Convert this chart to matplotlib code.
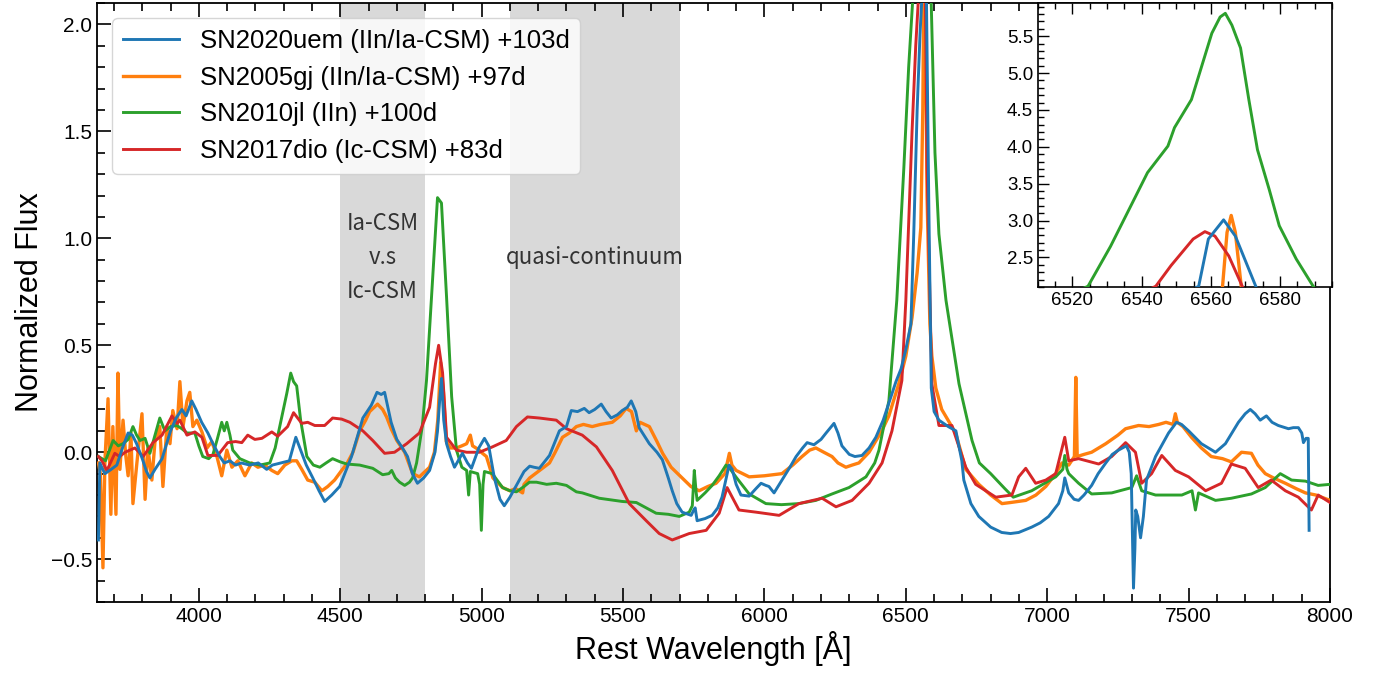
import numpy as np
import matplotlib
matplotlib.use("Agg")
import matplotlib.pyplot as plt
from matplotlib.ticker import MultipleLocator

plt.rcParams['font.family'] = ['Liberation Sans', 'DejaVu Sans']

# ---- spectra (rest wavelength [A], normalized flux) ----
uem_wave = [3645, 3650, 3660, 3668, 3690, 3710, 3730, 3750, 3765, 3780, 3800, 3815, 3827, 3845, 3870,
            3900, 3920, 3940, 3955, 3975, 3990, 4010, 4032, 4050, 4074, 4090, 4110, 4130, 4150, 4180,
            4210, 4240, 4260, 4290, 4320, 4343, 4360, 4380, 4403, 4425, 4445, 4470, 4498, 4540, 4580,
            4610, 4630, 4645, 4657, 4680, 4700, 4720, 4738, 4755, 4773, 4795, 4816, 4835, 4844, 4852,
            4858, 4866, 4876, 4890, 4904, 4932, 4950, 4964, 4990, 5010, 5025, 5045, 5065, 5080, 5100,
            5125, 5150, 5170, 5185, 5204, 5240, 5275, 5300, 5317, 5339, 5363, 5380, 5400, 5423, 5440,
            5458, 5480, 5497, 5515, 5529, 5545, 5557, 5593, 5620, 5639, 5660, 5674, 5690, 5709, 5741,
            5750, 5755, 5762, 5790, 5815, 5835, 5850, 5865, 5875, 5886, 5900, 5917, 5946, 5970, 5988,
            6005, 6016, 6034, 6062, 6090, 6112, 6135, 6151, 6175, 6200, 6218, 6246, 6260, 6274, 6300,
            6320, 6345, 6370, 6394, 6420, 6440, 6465, 6483, 6500, 6518, 6528, 6540, 6550, 6556.5, 6559.3,
            6563.7, 6567.1, 6573, 6581, 6590, 6600, 6617, 6650, 6677, 6698, 6705, 6730, 6758, 6800,
            6839, 6870, 6899, 6945, 6975, 7005, 7040, 7055, 7062, 7076, 7095, 7111, 7130, 7157, 7180,
            7207, 7230, 7252, 7280, 7290, 7297, 7305, 7310, 7313, 7320, 7330, 7340, 7351, 7383, 7429,
            7457, 7475, 7500, 7545, 7595, 7630, 7676, 7700, 7718, 7735, 7753, 7775, 7795, 7817, 7853,
            7870, 7888, 7900, 7906, 7915, 7923, 7926]
uem_flux = [-0.41, -0.05, -0.08, -0.10, -0.08, -0.06, 0.02, 0.09, 0.08, 0.04, -0.03, -0.09, -0.12, -0.08, -0.03,
            0.10, 0.16, 0.20, 0.17, 0.24, 0.20, 0.14, 0.09, 0.04, -0.02, -0.05, -0.04, -0.06, -0.05, -0.06,
            -0.05, -0.08, -0.06, -0.05, -0.04, 0.07, 0.01, -0.06, -0.12, -0.18, -0.23, -0.20, -0.16, -0.02, 0.16,
            0.22, 0.28, 0.27, 0.28, 0.14, 0.06, 0.02, -0.02, -0.10, -0.145, -0.12, -0.085, 0.0, 0.10, 0.25,
            0.345, 0.15, 0.04, -0.02, -0.07, -0.005, -0.05, -0.075, 0.02, 0.065, 0.03, -0.12, -0.22, -0.25, -0.21,
            -0.15, -0.09, -0.065, -0.07, -0.075, -0.015, 0.10, 0.12, 0.195, 0.19, 0.205, 0.185, 0.20, 0.225, 0.19,
            0.16, 0.175, 0.195, 0.21, 0.24, 0.19, 0.115, 0.04, 0.0, -0.035, -0.12, -0.18, -0.24, -0.28, -0.295,
            -0.27, -0.26, -0.32, -0.31, -0.295, -0.26, -0.21, -0.12, -0.06, -0.08, -0.15, -0.20, -0.205, -0.17, -0.145,
            -0.155, -0.16, -0.19, -0.13, -0.07, -0.02, 0.02, 0.045, 0.035, 0.06, 0.09, 0.135, 0.09, 0.03, -0.01,
            -0.02, -0.015, 0.02, 0.07, 0.15, 0.23, 0.33, 0.39, 0.48, 0.60, 1.02, 1.60, 1.95, 2.11, 2.75,
            3.01, 2.79, 2.11, 1.18, 0.30, 0.19, 0.15, 0.12, 0.10, -0.04, -0.13, -0.24, -0.30, -0.35,
            -0.375, -0.38, -0.375, -0.35, -0.33, -0.30, -0.24, -0.18, -0.12, -0.19, -0.22, -0.225, -0.20, -0.155, -0.10,
            -0.05, -0.01, 0.01, 0.03, 0.0, -0.10, -0.635, -0.45, -0.27, -0.30, -0.40, -0.30, -0.13, -0.02, 0.09,
            0.14, 0.13, 0.10, 0.04, 0.0, 0.04, 0.14, 0.18, 0.20, 0.18, 0.15, 0.17, 0.14, 0.125, 0.11,
            0.115, 0.115, 0.09, 0.045, 0.065, 0.065, -0.365]

gj_wave = [3645, 3652, 3661, 3668, 3679, 3689, 3696, 3707, 3714, 3721, 3732, 3742, 3750, 3760, 3767,
           3781, 3799, 3810, 3820, 3834, 3845, 3862, 3873, 3887, 3898, 3908, 3923, 3933, 3944, 3958,
           3968, 3979, 3993, 4011, 4029, 4046, 4064, 4081, 4099, 4117, 4138, 4163, 4187, 4209, 4233,
           4258, 4279, 4304, 4329, 4346, 4364, 4385, 4410, 4435, 4456, 4480, 4505, 4523, 4545, 4569,
           4590, 4604, 4632, 4650, 4664, 4680, 4700, 4728, 4756, 4780, 4800, 4816, 4833, 4845, 4855,
           4865, 4875, 4890, 4911, 4930, 4947, 4960, 4968, 4992, 5003, 5017, 5040, 5074, 5100, 5120,
           5145, 5150, 5170, 5200, 5240, 5260, 5286, 5310, 5335, 5360, 5391, 5420, 5462, 5490, 5511,
           5530, 5547, 5560, 5593, 5620, 5640, 5670, 5709, 5740, 5769, 5800, 5829, 5860, 5876, 5885,
           5900, 5946, 6000, 6062, 6100, 6133, 6160, 6182, 6210, 6239, 6260, 6288, 6310, 6334, 6370,
           6415, 6440, 6475, 6500, 6522, 6540, 6553, 6560, 6563.4, 6564.7, 6565.9, 6567.1, 6568.8, 6575, 6585,
           6592, 6606, 6627, 6676, 6712, 6758, 6800, 6840, 6870, 6924, 6960, 6995, 7030, 7052, 7076,
           7096, 7101, 7106, 7130, 7157, 7207, 7250, 7277, 7323, 7360, 7394, 7420, 7445, 7453, 7460,
           7480, 7510, 7545, 7580, 7620, 7651, 7687, 7722, 7745, 7771, 7800, 7842, 7880, 7913, 7950,
           8000]
gj_flux = [-0.05, -0.10, -0.54, -0.04, 0.25, -0.29, 0.12, -0.29, 0.37, -0.08, 0.15, -0.02, -0.11, 0.09, -0.24,
           -0.05, 0.18, -0.22, 0.02, -0.13, 0.05, 0.12, -0.16, 0.12, 0.04, 0.195, 0.11, 0.33, 0.12, 0.24,
           0.28, 0.12, 0.15, 0.095, 0.02, 0.05, -0.02, -0.11, 0.01, -0.07, -0.04, -0.11, -0.05, -0.07, -0.06,
           -0.085, -0.10, -0.06, -0.04, -0.04, -0.08, -0.13, -0.14, -0.18, -0.16, -0.13, -0.085, -0.055, 0.0, 0.10,
           0.15, 0.19, 0.225, 0.20, 0.165, 0.11, 0.055, 0.0, -0.10, -0.115, -0.09, -0.07, 0.0, 0.15, 0.42,
           0.28, 0.05, 0.02, 0.02, 0.03, 0.04, 0.08, 0.03, 0.01, -0.005, -0.02, -0.12, -0.165, -0.18, -0.17,
           -0.19, -0.15, -0.12, -0.09, -0.05, 0.0, 0.07, 0.09, 0.12, 0.13, 0.12, 0.13, 0.14, 0.17, 0.205,
           0.19, 0.10, 0.14, 0.12, 0.05, -0.005, -0.07, -0.12, -0.16, -0.18, -0.16, -0.145, -0.10, -0.005, -0.06,
           -0.085, -0.115, -0.11, -0.10, -0.06, -0.02, 0.01, 0.02, 0.0, -0.02, -0.05, -0.07, -0.06, -0.05, 0.0,
           0.10, 0.17, 0.32, 0.45, 0.63, 0.84, 1.05, 1.60, 2.11, 2.84, 3.07, 2.84, 2.11, 1.20, 0.60,
           0.45, 0.30, 0.20, 0.09, -0.08, -0.15, -0.20, -0.24, -0.235, -0.225, -0.20, -0.16, -0.10, -0.05, -0.06,
           -0.02, 0.35, -0.02, -0.01, 0.0, 0.04, 0.08, 0.11, 0.125, 0.12, 0.13, 0.14, 0.13, 0.18, 0.14,
           0.12, 0.07, 0.02, -0.02, -0.03, -0.045, 0.0, -0.005, -0.06, -0.10, -0.12, -0.145, -0.17, -0.19, -0.20,
           -0.225]

jl_wave = [3645, 3670, 3697, 3715, 3732, 3750, 3767, 3780, 3792, 3810, 3827, 3845, 3862, 3880, 3900,
           3922, 3940, 3958, 3986, 4000, 4014, 4035, 4050, 4065, 4081, 4090, 4099, 4110, 4120, 4145,
           4180, 4216, 4251, 4270, 4286, 4311, 4325, 4335, 4346, 4360, 4382, 4405, 4428, 4450, 4473,
           4500, 4523, 4569, 4615, 4650, 4672, 4682, 4695, 4710, 4728, 4745, 4756, 4770, 4790, 4805,
           4826, 4844, 4858, 4876, 4894, 4911, 4930, 4947, 4954, 4960, 4986, 4993, 4999, 5005, 5010,
           5038, 5074, 5100, 5123, 5150, 5169, 5194, 5230, 5264, 5300, 5335, 5356, 5416, 5497, 5547,
           5617, 5660, 5699, 5734, 5745, 5752, 5758, 5762, 5790, 5815, 5840, 5864, 5880, 5899, 5946,
           6005, 6060, 6122, 6182, 6239, 6299, 6359, 6390, 6405, 6440, 6468, 6493, 6510, 6524.5, 6531,
           6541.7, 6547.6, 6549.5, 6554.4, 6560.3, 6562.7, 6564.2, 6566.1, 6568.6, 6571.0, 6573.5, 6576.9, 6579.8, 6584.7, 6589.6,
           6603, 6617, 6642, 6688, 6734, 6760, 6800, 6850, 6880, 6945, 7030, 7055, 7062, 7070, 7076,
           7111, 7157, 7228, 7299, 7316, 7334, 7383, 7476, 7512, 7524, 7535, 7595, 7651, 7722, 7771,
           7824, 7864, 7913, 7958, 8000]
jl_flux = [-0.02, -0.04, 0.055, 0.03, 0.04, 0.06, 0.12, 0.08, 0.055, 0.065, -0.005, 0.08, 0.16, 0.10, 0.12,
           0.125, 0.11, 0.09, 0.09, 0.03, -0.02, -0.03, -0.01, 0.06, 0.14, 0.10, 0.14, 0.08, 0.01, -0.03,
           -0.05, -0.06, -0.05, 0.02, 0.12, 0.275, 0.37, 0.33, 0.31, 0.15, -0.02, -0.06, -0.07, -0.05, -0.03,
           -0.045, -0.055, -0.06, -0.075, -0.105, -0.10, -0.085, -0.12, -0.14, -0.155, -0.14, -0.12, -0.05, 0.12, 0.335,
           0.80, 1.19, 1.165, 0.725, 0.26, 0.01, -0.07, -0.085, -0.20, -0.09, -0.10, -0.15, -0.365, -0.15, -0.09,
           -0.10, -0.165, -0.18, -0.185, -0.16, -0.14, -0.14, -0.15, -0.145, -0.155, -0.185, -0.19, -0.215, -0.23, -0.235,
           -0.285, -0.29, -0.30, -0.28, -0.25, -0.085, -0.18, -0.225, -0.19, -0.155, -0.11, -0.06, -0.08, -0.115, -0.195,
           -0.24, -0.245, -0.24, -0.225, -0.195, -0.165, -0.115, -0.05, 0.01, 0.24, 0.71, 1.33, 1.80, 2.11, 2.65,
           3.65, 4.01, 4.26, 4.64, 5.54, 5.76, 5.81, 5.65, 5.34, 4.64, 3.96, 3.42, 2.93, 2.48, 2.11,
           1.40, 1.02, 0.71, 0.32, 0.055, -0.05, -0.10, -0.17, -0.21, -0.18, -0.115, -0.08, -0.015, -0.08, -0.10,
           -0.145, -0.195, -0.19, -0.165, -0.11, -0.18, -0.20, -0.20, -0.18, -0.27, -0.19, -0.225, -0.215, -0.195, -0.165,
           -0.10, -0.13, -0.135, -0.155, -0.15]

dio_wave = [3645, 3657, 3675, 3703, 3720, 3739, 3774, 3803, 3838, 3870, 3905, 3923, 3933, 3958, 3986,
            4011, 4032, 4067, 4102, 4130, 4152, 4173, 4198, 4223, 4258, 4279, 4314, 4335, 4364, 4385,
            4410, 4445, 4473, 4505, 4534, 4580, 4615, 4657, 4692, 4735, 4780, 4816, 4837, 4848, 4862,
            4876, 4911, 4947, 4992, 5038, 5087, 5123, 5162, 5204, 5264, 5300, 5356, 5406, 5462, 5522,
            5582, 5628, 5674, 5734, 5794, 5840, 5868, 5886, 5910, 5970, 6052, 6122, 6204, 6253, 6310,
            6370, 6416, 6451, 6486, 6500, 6522, 6535, 6544.1, 6548.5, 6554.9, 6558.3, 6561.2, 6565.2, 6569.1, 6575,
            6592, 6617, 6663, 6688, 6712, 6747, 6818, 6875, 6899, 6924, 6959, 6995, 7030, 7062, 7076,
            7111, 7182, 7228, 7277, 7312, 7334, 7369, 7405, 7453, 7500, 7560, 7616, 7651, 7700, 7746,
            7792, 7842, 7888, 7934, 7958, 8000]
dio_flux = [-0.02, -0.04, -0.085, -0.005, -0.02, 0.0, 0.02, -0.02, 0.045, 0.08, 0.17, 0.135, 0.15, 0.08, 0.095,
            0.07, -0.015, -0.015, 0.045, 0.05, 0.045, 0.08, 0.06, 0.065, 0.095, 0.075, 0.12, 0.185, 0.135, 0.14,
            0.125, 0.125, 0.16, 0.155, 0.14, 0.10, 0.055, -0.005, 0.0, 0.04, 0.09, 0.21, 0.415, 0.50, 0.37,
            0.07, 0.01, 0.0, 0.0, 0.025, 0.055, 0.12, 0.165, 0.16, 0.15, 0.11, 0.08, 0.025, -0.085, -0.24,
            -0.32, -0.38, -0.41, -0.38, -0.365, -0.285, -0.165, -0.21, -0.27, -0.28, -0.295, -0.24, -0.215, -0.255, -0.225,
            -0.145, -0.05, 0.10, 0.335, 0.71, 1.50, 1.90, 2.11, 2.39, 2.75, 2.85, 2.79, 2.52, 2.11, 1.33,
            0.32, 0.125, 0.125, 0.025, -0.07, -0.15, -0.21, -0.20, -0.115, -0.075, -0.145, -0.13, -0.10, 0.07, -0.04,
            -0.03, -0.055, -0.02, 0.045, 0.0, -0.145, -0.10, -0.015, -0.085, -0.115, -0.18, -0.145, -0.055, -0.075, -0.165,
            -0.13, -0.18, -0.21, -0.27, -0.20, -0.235]

series = [
    (uem_wave, uem_flux, 'SN2020uem (IIn/Ia-CSM) +103d', 'C0', 2.1, 6),
    (gj_wave, gj_flux, 'SN2005gj (IIn/Ia-CSM) +97d', 'C1', 2.4, 3),
    (jl_wave, jl_flux, 'SN2010jl (IIn) +100d', 'C2', 2.1, 4),
    (dio_wave, dio_flux, 'SN2017dio (Ic-CSM) +83d', 'C3', 2.1, 5),
]

shaded = [(4500, 4800), (5100, 5700)]

fig = plt.figure(figsize=(13.82, 6.8), dpi=100)
ax = fig.add_axes([0.0702, 0.1147, 0.8922, 0.8809])

for lo, hi in shaded:
    ax.axvspan(lo, hi, color='#d9d9d9', lw=0, zorder=0)

for w, f, lab, c, lw, z in series:
    ax.plot(w, f, color=c, lw=lw, label=lab, zorder=z)

ax.text(4650, 0.91, 'Ia-CSM\nv.s\nIc-CSM', ha='center', va='center', fontsize=16,
        color='#333333', linespacing=1.6, family=['Noto Sans CJK JP', 'DejaVu Sans'])
ax.text(5400, 0.91, 'quasi-continuum', ha='center', va='center', fontsize=16,
        color='#333333', family=['Noto Sans CJK JP', 'DejaVu Sans'])

ax.set_xlim(3640, 8000)
ax.set_ylim(-0.7, 2.1)
ax.xaxis.set_major_locator(MultipleLocator(500))
ax.xaxis.set_minor_locator(MultipleLocator(100))
ax.yaxis.set_major_locator(MultipleLocator(0.5))
ax.yaxis.set_minor_locator(MultipleLocator(0.1))
ax.tick_params(which='both', direction='in', top=True, right=False, labelsize=15, width=1.2)
ax.tick_params(which='major', length=10)
ax.tick_params(which='minor', length=6)
for s in ax.spines.values():
    s.set_linewidth(1.3)
ax.set_xlabel('Rest Wavelength [Å]', fontsize=22)
ax.set_ylabel('Normalized Flux', fontsize=22)

leg = ax.legend(loc='upper left', fontsize=18.5, handlelength=2.2, labelspacing=0.5,
                borderaxespad=0.6, handletextpad=0.8)

# zoom on H-alpha
axin = fig.add_axes([0.751, 0.578, 0.2127, 0.4176])
for w, f, lab, c, lw, z in series:
    axin.plot(w, f, color=c, lw=lw, zorder=z)
axin.set_xlim(6510, 6595)
axin.set_ylim(2.1, 5.95)
axin.xaxis.set_major_locator(MultipleLocator(20))
axin.xaxis.set_minor_locator(MultipleLocator(5))
axin.yaxis.set_major_locator(MultipleLocator(0.5))
axin.yaxis.set_minor_locator(MultipleLocator(0.1))
axin.tick_params(which='both', direction='in', top=True, right=False, labelsize=13.5, width=1.0)
axin.tick_params(which='major', length=8)
axin.tick_params(which='minor', length=4.5)
for s in axin.spines.values():
    s.set_linewidth(1.2)

fig.savefig('out.png', dpi=100)
